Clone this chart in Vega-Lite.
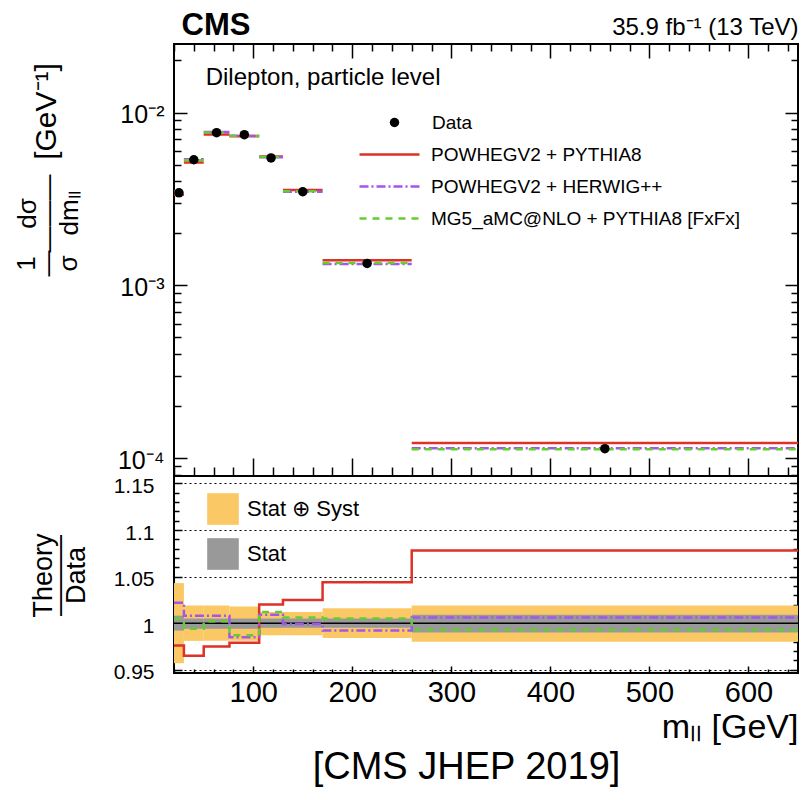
{
  "$schema": "https://vega.github.io/schema/vega-lite/v6.json",
  "padding": {"left": 12, "top": 8, "right": 4, "bottom": 4},
  "datasets": {
    "bins": [
      {"lo": 20, "hi": 30, "c": 25, "data": 0.00343, "tot_lo": 0.957, "tot_hi": 1.043, "stat_lo": 0.992, "stat_hi": 1.008},
      {"lo": 30, "hi": 50, "c": 40, "data": 0.00533, "tot_lo": 0.981, "tot_hi": 1.019, "stat_lo": 0.994, "stat_hi": 1.005},
      {"lo": 50, "hi": 76, "c": 63, "data": 0.00764, "tot_lo": 0.981, "tot_hi": 1.019, "stat_lo": 0.994, "stat_hi": 1.005},
      {"lo": 76, "hi": 106, "c": 91, "data": 0.00744, "tot_lo": 0.981, "tot_hi": 1.018, "stat_lo": 0.994, "stat_hi": 1.005},
      {"lo": 106, "hi": 130, "c": 118, "data": 0.00546, "tot_lo": 0.987, "tot_hi": 1.012, "stat_lo": 0.995, "stat_hi": 1.005},
      {"lo": 130, "hi": 170, "c": 150, "data": 0.00348, "tot_lo": 0.987, "tot_hi": 1.012, "stat_lo": 0.995, "stat_hi": 1.005},
      {"lo": 170, "hi": 260, "c": 215, "data": 0.00134, "tot_lo": 0.984, "tot_hi": 1.016, "stat_lo": 0.995, "stat_hi": 1.005},
      {"lo": 260, "hi": 650, "c": 455, "data": 0.0001137, "tot_lo": 0.980, "tot_hi": 1.019, "stat_lo": 0.990, "stat_hi": 1.009}
    ],
    "theory": [
      {"s": "POWHEGV2 + PYTHIA8", "lo": 20, "hi": 30, "val": 0.003348, "ratio": 0.976},
      {"s": "POWHEGV2 + PYTHIA8", "lo": 30, "hi": 50, "val": 0.005143, "ratio": 0.965},
      {"s": "POWHEGV2 + PYTHIA8", "lo": 50, "hi": 76, "val": 0.007449, "ratio": 0.975},
      {"s": "POWHEGV2 + PYTHIA8", "lo": 76, "hi": 106, "val": 0.007284, "ratio": 0.979},
      {"s": "POWHEGV2 + PYTHIA8", "lo": 106, "hi": 130, "val": 0.005569, "ratio": 1.020},
      {"s": "POWHEGV2 + PYTHIA8", "lo": 130, "hi": 170, "val": 0.003567, "ratio": 1.025},
      {"s": "POWHEGV2 + PYTHIA8", "lo": 170, "hi": 260, "val": 0.001399, "ratio": 1.044},
      {"s": "POWHEGV2 + PYTHIA8", "lo": 260, "hi": 650, "val": 0.00012257, "ratio": 1.078},
      {"s": "POWHEGV2 + HERWIG++", "lo": 20, "hi": 30, "val": 0.003505, "ratio": 1.022},
      {"s": "POWHEGV2 + HERWIG++", "lo": 30, "hi": 50, "val": 0.005373, "ratio": 1.008},
      {"s": "POWHEGV2 + HERWIG++", "lo": 50, "hi": 76, "val": 0.007701, "ratio": 1.008},
      {"s": "POWHEGV2 + HERWIG++", "lo": 76, "hi": 106, "val": 0.007328, "ratio": 0.985},
      {"s": "POWHEGV2 + HERWIG++", "lo": 106, "hi": 130, "val": 0.005509, "ratio": 1.009},
      {"s": "POWHEGV2 + HERWIG++", "lo": 130, "hi": 170, "val": 0.003477, "ratio": 0.999},
      {"s": "POWHEGV2 + HERWIG++", "lo": 170, "hi": 260, "val": 0.001329, "ratio": 0.992},
      {"s": "POWHEGV2 + HERWIG++", "lo": 260, "hi": 650, "val": 0.00011438, "ratio": 1.006},
      {"s": "MG5_aMC@NLO + PYTHIA8 [FxFx]", "lo": 20, "hi": 30, "val": 0.003447, "ratio": 1.005},
      {"s": "MG5_aMC@NLO + PYTHIA8 [FxFx]", "lo": 30, "hi": 50, "val": 0.005298, "ratio": 0.994},
      {"s": "MG5_aMC@NLO + PYTHIA8 [FxFx]", "lo": 50, "hi": 76, "val": 0.007655, "ratio": 1.002},
      {"s": "MG5_aMC@NLO + PYTHIA8 [FxFx]", "lo": 76, "hi": 106, "val": 0.007343, "ratio": 0.987},
      {"s": "MG5_aMC@NLO + PYTHIA8 [FxFx]", "lo": 106, "hi": 130, "val": 0.005526, "ratio": 1.012},
      {"s": "MG5_aMC@NLO + PYTHIA8 [FxFx]", "lo": 130, "hi": 170, "val": 0.003501, "ratio": 1.006},
      {"s": "MG5_aMC@NLO + PYTHIA8 [FxFx]", "lo": 170, "hi": 260, "val": 0.001347, "ratio": 1.005},
      {"s": "MG5_aMC@NLO + PYTHIA8 [FxFx]", "lo": 260, "hi": 650, "val": 0.0001129, "ratio": 0.993}
    ]
  },
  "spacing": 0,
  "bounds": "flush",
  "resolve": {
    "scale": {"x": "independent", "y": "independent", "color": "independent", "strokeDash": "independent", "shape": "independent", "fill": "independent"},
    "legend": {"color": "independent", "strokeDash": "independent", "shape": "independent", "fill": "independent"}
  },
  "vconcat": [
    {
      "width": 624,
      "height": 432,
      "resolve": {"axis": {"x": "independent", "y": "independent"}},
      "layer": [
        {
          "data": {"name": "theory"},
          "transform": [{"filter": "datum.s == 'POWHEGV2 + PYTHIA8'"}],
          "mark": {"type": "rule", "strokeWidth": 2.5},
          "encoding": {
            "x": {"field": "lo", "type": "quantitative", "scale": {"domain": [20, 650], "nice": false, "zero": false},
                  "axis": {"orient": "bottom", "values": [100, 200, 300, 400, 500, 600], "tickSize": -18, "labels": false, "title": null}},
            "x2": {"field": "hi"},
            "y": {"field": "val", "type": "quantitative", "scale": {"type": "log", "domain": [0.000079, 0.0249], "nice": false},
                  "axis": {"orient": "left", "values": [0.0001, 0.001, 0.01], "ticks": false, "labelFontSize": 25, "labelPadding": 10, "labelOffset": 2, "labelBaseline": "middle",
                           "labelExpr": "datum.value < 0.0005 ? '10⁻⁴' : (datum.value < 0.005 ? '10⁻³' : '10⁻²')",
                           "title": "[GeV⁻¹]", "titleFontSize": 30, "titleX": -128, "titleY": 67, "titleAlign": "center", "titleBaseline": "middle", "titleAngle": -90}},
            "color": {"field": "s", "type": "nominal",
                      "scale": {"domain": ["POWHEGV2 + PYTHIA8", "POWHEGV2 + HERWIG++", "MG5_aMC@NLO + PYTHIA8 [FxFx]"], "range": ["#dc3228", "#a356ee", "#66cc33"]},
                      "legend": {"title": null, "orient": "none", "legendX": 204, "legendY": 99, "symbolType": "M-3,0H3", "symbolSize": 400, "symbolStrokeWidth": 2.5, "labelFontSize": 19, "labelOffset": 30, "rowPadding": 10, "padding": 0, "labelLimit": 400}},
            "strokeDash": {"field": "s", "type": "nominal",
                           "scale": {"domain": ["POWHEGV2 + PYTHIA8", "POWHEGV2 + HERWIG++", "MG5_aMC@NLO + PYTHIA8 [FxFx]"], "range": [[1, 0], [9, 3, 2, 3], [7, 6]]},
                           "legend": {"title": null, "orient": "none", "legendX": 204, "legendY": 99, "symbolType": "M-3,0H3", "symbolSize": 400, "symbolStrokeWidth": 2.5, "labelFontSize": 19, "labelOffset": 30, "rowPadding": 10, "padding": 0, "labelLimit": 400}}
          }
        },
        {
          "data": {"name": "theory"},
          "transform": [{"filter": "datum.s == 'POWHEGV2 + HERWIG++'"}],
          "mark": {"type": "rule", "strokeWidth": 2.5},
          "encoding": {
            "x": {"field": "lo", "type": "quantitative",
                  "axis": {"orient": "bottom", "values": [20, 40, 60, 80, 120, 140, 160, 180, 220, 240, 260, 280, 320, 340, 360, 380, 420, 440, 460, 480, 520, 540, 560, 580, 620, 640], "tickSize": -9, "labels": false, "title": null}},
            "x2": {"field": "hi"},
            "y": {"field": "val", "type": "quantitative",
                  "axis": {"orient": "left", "values": [0.0001, 0.001, 0.01], "tickSize": -13, "labels": false,
                           "title": ["dσ", "———", "dmₗₗ"], "titleFontSize": 26, "titleLineHeight": 21, "titleX": -147, "titleY": 169, "titleAlign": "center", "titleBaseline": "middle", "titleAngle": -90}},
            "color": {"field": "s", "type": "nominal"},
            "strokeDash": {"field": "s", "type": "nominal"}
          }
        },
        {
          "data": {"name": "theory"},
          "transform": [{"filter": "datum.s == 'MG5_aMC@NLO + PYTHIA8 [FxFx]'"}],
          "mark": {"type": "rule", "strokeWidth": 2.5},
          "encoding": {
            "x": {"field": "lo", "type": "quantitative",
                  "axis": {"orient": "top", "values": [100, 200, 300, 400, 500, 600], "tickSize": -14, "labels": false,
                           "title": "CMS", "titleFontSize": 31, "titleFontWeight": "bold", "titleX": 7, "titleY": -10, "titleAlign": "left", "titleBaseline": "alphabetic", "titleAnchor": null}},
            "x2": {"field": "hi"},
            "y": {"field": "val", "type": "quantitative",
                  "axis": {"orient": "left", "values": [0.00008, 0.00009, 0.0002, 0.0003, 0.0004, 0.0005, 0.0006, 0.0007, 0.0008, 0.0009, 0.002, 0.003, 0.004, 0.005, 0.006, 0.007, 0.008, 0.009, 0.02], "tickSize": -7, "labels": false,
                           "title": ["1", "—", "σ"], "titleFontSize": 26, "titleLineHeight": 21, "titleX": -148, "titleY": 219, "titleAlign": "center", "titleBaseline": "middle", "titleAngle": -90}},
            "color": {"field": "s", "type": "nominal"},
            "strokeDash": {"field": "s", "type": "nominal"}
          }
        },
        {
          "data": {"name": "bins"},
          "mark": {"type": "point", "filled": true, "color": "black", "size": 90, "opacity": 1},
          "encoding": {
            "x": {"field": "c", "type": "quantitative",
                  "axis": {"orient": "top", "values": [20, 40, 60, 80, 120, 140, 160, 180, 220, 240, 260, 280, 320, 340, 360, 380, 420, 440, 460, 480, 520, 540, 560, 580, 620, 640], "tickSize": -7, "labels": false,
                           "title": "35.9 fb⁻¹ (13 TeV)", "titleFontSize": 24, "titleFontWeight": "normal", "titleX": 624, "titleY": -10, "titleAlign": "right", "titleBaseline": "alphabetic", "titleAnchor": null}},
            "y": {"field": "data", "type": "quantitative",
                  "axis": {"orient": "right", "values": [0.0001, 0.001, 0.01], "tickSize": -13, "labels": false, "title": null}},
            "shape": {"datum": "Data", "scale": {"range": ["circle"]},
                      "legend": {"title": null, "orient": "none", "legendX": 211, "legendY": 69, "symbolSize": 90, "symbolFillColor": "black", "symbolStrokeColor": "black", "labelFontSize": 19, "labelOffset": 28, "padding": 0}}
          }
        },
        {
          "data": {"values": [{}]},
          "mark": {"type": "text", "text": "Dilepton, particle level", "align": "left", "baseline": "middle", "fontSize": 24, "color": "black"},
          "encoding": {
            "x": {"datum": 52, "type": "quantitative", "axis": null},
            "y": {"datum": 0.0158, "type": "quantitative",
                  "axis": {"orient": "right", "values": [0.00008, 0.00009, 0.0002, 0.0003, 0.0004, 0.0005, 0.0006, 0.0007, 0.0008, 0.0009, 0.002, 0.003, 0.004, 0.005, 0.006, 0.007, 0.008, 0.009, 0.02], "tickSize": -7, "labels": false, "title": null}}
          }
        }
      ]
    },
    {
      "width": 624,
      "height": 197,
      "resolve": {"axis": {"x": "independent", "y": "independent"}},
      "layer": [
        {
          "data": {"name": "bins"},
          "mark": {"type": "rect"},
          "encoding": {
            "x": {"field": "lo", "type": "quantitative", "scale": {"domain": [20, 650], "nice": false, "zero": false},
                  "axis": {"orient": "bottom", "values": [100, 200, 300, 400, 500, 600], "ticks": false, "labelFontSize": 29, "labelPadding": 5,
                           "title": "mₗₗ [GeV]", "titleFontSize": 34, "titleX": 624, "titleY": 64, "titleAlign": "right", "titleBaseline": "alphabetic", "titleAnchor": null}},
            "x2": {"field": "hi"},
            "y": {"field": "tot_lo", "type": "quantitative", "scale": {"domain": [0.9465, 1.158], "nice": false, "zero": false},
                  "axis": {"orient": "left", "values": [0.95, 1, 1.05, 1.1, 1.15], "ticks": false, "format": "~g", "labelFontSize": 21, "labelPadding": 20, "labelOffset": 3, "labelBaseline": "middle",
                           "grid": true, "gridDash": [2, 3], "gridColor": "black", "gridWidth": 1.2,
                           "gridOpacity": {"condition": {"test": "datum.value == 1", "value": 0}, "value": 1},
                           "title": ["Theory", "———", "Data"], "titleFontSize": 27, "titleLineHeight": 16.5, "titleX": -131, "titleY": 99, "titleAlign": "center", "titleBaseline": "middle", "titleAngle": -90}},
            "y2": {"field": "tot_hi"},
            "fill": {"datum": "Stat ⊕ Syst", "type": "nominal",
                     "scale": {"domain": ["Stat ⊕ Syst", "Stat"], "range": ["#fac864", "#999999"]},
                     "legend": {"title": null, "orient": "none", "legendX": 33, "legendY": 17, "symbolType": "square", "symbolSize": 1000, "symbolStrokeWidth": 0, "labelFontSize": 22, "labelOffset": 8, "rowPadding": 13, "padding": 0}}
          }
        },
        {
          "data": {"name": "bins"},
          "mark": {"type": "rect"},
          "encoding": {
            "x": {"field": "lo", "type": "quantitative",
                  "axis": {"orient": "bottom", "values": [100, 200, 300, 400, 500, 600], "tickSize": -7, "labels": false,
                           "title": "[CMS JHEP 2019]", "titleFontSize": 38, "titleFontWeight": "normal", "titleX": 292, "titleY": 105, "titleAlign": "center", "titleBaseline": "alphabetic", "titleAnchor": null}},
            "x2": {"field": "hi"},
            "y": {"field": "stat_lo", "type": "quantitative",
                  "axis": {"orient": "left", "values": [0.95, 1, 1.05, 1.1, 1.15], "tickSize": -8, "labels": false, "title": null}},
            "y2": {"field": "stat_hi"},
            "fill": {"datum": "Stat", "type": "nominal"}
          }
        },
        {
          "data": {"values": [{}]},
          "mark": {"type": "rule", "color": "black", "strokeWidth": 1.5},
          "encoding": {
            "y": {"datum": 1, "type": "quantitative",
                  "axis": {"orient": "left", "values": [0.96, 0.97, 0.98, 0.99, 1.01, 1.02, 1.03, 1.04, 1.06, 1.07, 1.08, 1.09, 1.11, 1.12, 1.13, 1.14], "tickSize": -5, "labels": false, "title": null}}
          }
        },
        {
          "data": {"name": "theory"},
          "transform": [{"filter": "datum.s == 'POWHEGV2 + PYTHIA8'"}, {"fold": ["lo", "hi"], "as": ["edge", "m"]}],
          "mark": {"type": "line", "color": "#dc3228", "strokeWidth": 2.5},
          "encoding": {
            "x": {"field": "m", "type": "quantitative",
                  "axis": {"orient": "bottom", "values": [20, 40, 60, 80, 120, 140, 160, 180, 220, 240, 260, 280, 320, 340, 360, 380, 420, 440, 460, 480, 520, 540, 560, 580, 620, 640], "tickSize": -4, "labels": false, "title": null}},
            "y": {"field": "ratio", "type": "quantitative",
                  "axis": {"orient": "right", "values": [0.95, 1, 1.05, 1.1, 1.15], "tickSize": -8, "labels": false, "title": null}},
            "order": [{"field": "m", "type": "quantitative"}, {"field": "edge", "type": "ordinal"}]
          }
        },
        {
          "data": {"name": "theory"},
          "transform": [{"filter": "datum.s == 'POWHEGV2 + HERWIG++'"}, {"fold": ["lo", "hi"], "as": ["edge", "m"]}],
          "mark": {"type": "line", "color": "#a356ee", "strokeWidth": 2.5, "strokeDash": [9, 3, 2, 3]},
          "encoding": {
            "x": {"field": "m", "type": "quantitative", "axis": null},
            "y": {"field": "ratio", "type": "quantitative",
                  "axis": {"orient": "right", "values": [0.96, 0.97, 0.98, 0.99, 1.01, 1.02, 1.03, 1.04, 1.06, 1.07, 1.08, 1.09, 1.11, 1.12, 1.13, 1.14], "tickSize": -5, "labels": false, "title": null}},
            "order": [{"field": "m", "type": "quantitative"}, {"field": "edge", "type": "ordinal"}]
          }
        },
        {
          "data": {"name": "theory"},
          "transform": [{"filter": "datum.s == 'MG5_aMC@NLO + PYTHIA8 [FxFx]'"}, {"fold": ["lo", "hi"], "as": ["edge", "m"]}],
          "mark": {"type": "line", "color": "#66cc33", "strokeWidth": 2.5, "strokeDash": [7, 6]},
          "encoding": {
            "x": {"field": "m", "type": "quantitative", "axis": null},
            "y": {"field": "ratio", "type": "quantitative", "axis": null},
            "order": [{"field": "m", "type": "quantitative"}, {"field": "edge", "type": "ordinal"}]
          }
        }
      ]
    }
  ],
  "config": {
    "font": "Liberation Sans",
    "view": {"stroke": "black", "strokeWidth": 2},
    "axis": {"domain": false, "grid": false, "minExtent": 0, "tickColor": "black", "tickWidth": 1.5, "labelColor": "black", "titleColor": "black", "labelFont": "Liberation Sans", "titleFont": "Liberation Sans", "titleFontWeight": "normal"},
    "legend": {"labelColor": "black", "labelFont": "Liberation Sans"},
    "text": {"font": "Liberation Sans"}
  }
}
